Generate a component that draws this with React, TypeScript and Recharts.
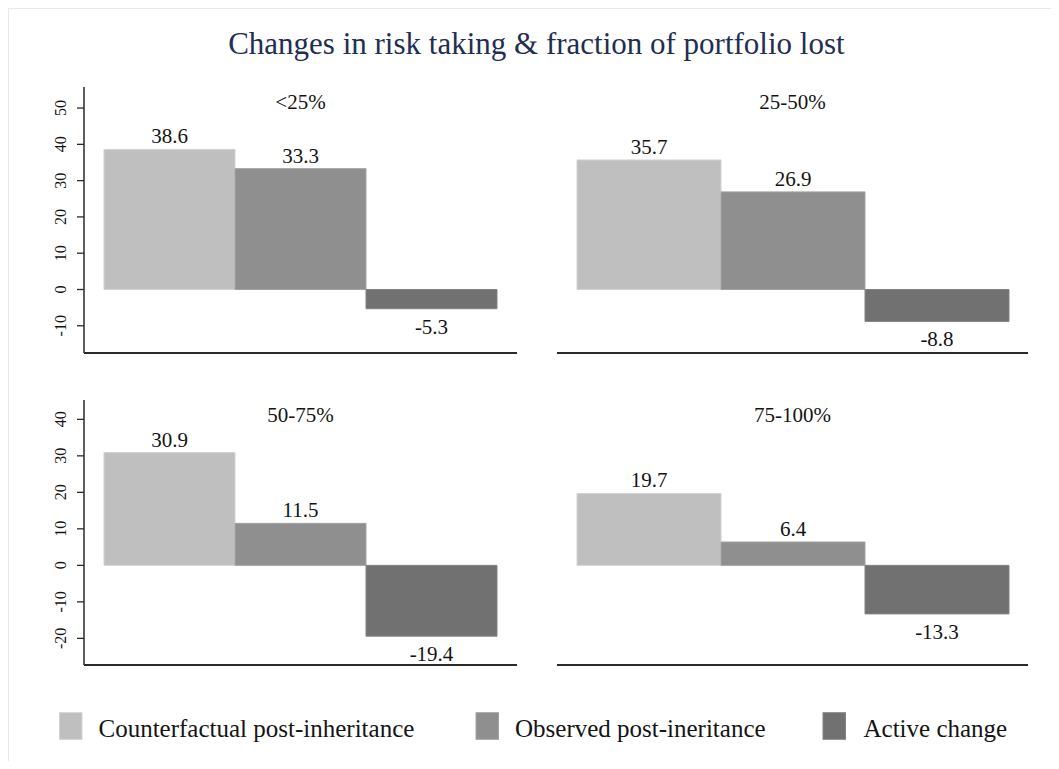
import React from 'react';
import { BarChart, Bar, XAxis, YAxis, LabelList } from 'recharts';

// ---------- data ----------
const panelNames = ['<25%', '25-50%', '50-75%', '75-100%'];
const counterfactual = [38.6, 35.7, 30.9, 19.7];
const observed = [33.3, 26.9, 11.5, 6.4];
const activeChange = [-5.3, -8.8, -19.4, -13.3];
const seriesNames = ['Counterfactual post-inheritance', 'Observed post-ineritance', 'Active change'];
const topRowTicks = [-10, 0, 10, 20, 30, 40, 50];
const bottomRowTicks = [-20, -10, 0, 10, 20, 30, 40];
const topRowDomain: [number, number] = [-17.5, 55.8];
const bottomRowDomain: [number, number] = [-27.3, 45.3];
const chartTitle = 'Changes in risk taking & fraction of portfolio lost';

// ---------- style ----------
const seriesKeys = ['cf', 'obs', 'act'];
const fills = ['#bfbfbf', '#8f8f8f', '#717171'];
const strokes = ['#d2d2d2', '#a2a2a2', '#838383'];
const FONT = '"Liberation Serif", "DejaVu Serif", serif';
const TEXT = '#141414';
const AXIS = '#2a2a2a';

const panelLayout = [
  { L: 76, T: 79, R: 509, B: 345, showY: true, ticks: topRowTicks, domain: topRowDomain },
  { L: 549, T: 79, R: 1020, B: 345, showY: false, ticks: topRowTicks, domain: topRowDomain },
  { L: 76, T: 392, R: 509, B: 657, showY: true, ticks: bottomRowTicks, domain: bottomRowDomain },
  { L: 549, T: 392, R: 1020, B: 657, showY: false, ticks: bottomRowTicks, domain: bottomRowDomain },
];

const legendLayout = [
  { sx: 51.5, tx: 90.5 },
  { sx: 468, tx: 507 },
  { sx: 815, tx: 855.5 },
];

const YTick = (props: any) => {
  const { x, y, payload } = props;
  const bx = x - 11;
  return (
    <text
      transform={`translate(${bx},${y}) rotate(-90)`}
      textAnchor="middle"
      fontFamily={FONT}
      fontSize={16}
      fill={TEXT}
    >
      {payload.value}
    </text>
  );
};

const ValueLabel = (props: any) => {
  const { x, y, width, height, value } = props;
  const top = Math.min(y, y + height);
  const bottom = Math.max(y, y + height);
  const cx = x + width / 2;
  const ty = value >= 0 ? top - 6 : bottom + 25;
  return (
    <text x={cx} y={ty} textAnchor="middle" fontFamily={FONT} fontSize={21} fill={TEXT}>
      {value}
    </text>
  );
};

function Panel({ index }: { index: number }) {
  const r = panelLayout[index];
  const data = [
    {
      panel: panelNames[index],
      cf: counterfactual[index],
      obs: observed[index],
      act: activeChange[index],
    },
  ];
  const yw = 40;
  const W = r.R + 10;
  const H = r.B + 30;
  return (
    <div style={{ position: 'absolute', left: 0, top: 0 }}>
      <BarChart
        width={W}
        height={H}
        data={data}
        margin={{ top: r.T, right: 10, bottom: 29, left: r.showY ? r.L - yw : r.L }}
        barCategoryGap={20}
        barGap={0}
      >
        <XAxis
          dataKey="panel"
          type="category"
          tick={false}
          tickLine={false}
          height={1}
          axisLine={{ stroke: AXIS, strokeWidth: 1.8 }}
        />
        <YAxis
          hide={!r.showY}
          width={yw}
          type="number"
          domain={r.domain}
          ticks={r.ticks}
          allowDataOverflow
          interval={0}
          tickSize={7}
          tickMargin={0}
          axisLine={{ stroke: AXIS, strokeWidth: 1.5 }}
          tickLine={{ stroke: AXIS, strokeWidth: 1.3 }}
          tick={YTick}
        />
        {seriesKeys.map((k, i) => (
          <Bar
            key={k}
            dataKey={k}
            name={seriesNames[i]}
            fill={fills[i]}
            stroke={strokes[i]}
            strokeWidth={1}
            isAnimationActive={false}
          >
            <LabelList dataKey={k} content={ValueLabel} />
          </Bar>
        ))}
      </BarChart>
    </div>
  );
}

export default function App() {
  return (
    <div
      style={{
        position: 'relative',
        width: 1043,
        height: 753,
        background: '#ffffff',
        fontFamily: FONT,
      }}
    >
      {panelNames.map((_, i) => (
        <Panel key={i} index={i} />
      ))}
      <svg
        width={1043}
        height={753}
        style={{ position: 'absolute', left: 0, top: 0, pointerEvents: 'none' }}
      >
        <line x1={0} y1={0.5} x2={1043} y2={0.5} stroke="#e3ebee" strokeWidth={1} />
        <line x1={0.5} y1={0} x2={0.5} y2={753} stroke="#e3ebee" strokeWidth={1} />
        <text x={528.4} y={46.3} textAnchor="middle" fontFamily={FONT} fontSize={31} fill="#1f2e52">
          {chartTitle}
        </text>
        {panelNames.map((p, i) => {
          const r = panelLayout[i];
          return (
            <text
              key={p}
              x={(r.L + r.R) / 2}
              y={r.T + 21.5}
              textAnchor="middle"
              fontFamily={FONT}
              fontSize={21}
              fill={TEXT}
            >
              {p}
            </text>
          );
        })}
        {seriesNames.map((s, i) => (
          <g key={s}>
            <rect
              x={legendLayout[i].sx}
              y={704.7}
              width={22.5}
              height={26.6}
              fill={fills[i]}
              stroke={strokes[i]}
              strokeWidth={1}
            />
            <text x={legendLayout[i].tx} y={728.7} fontFamily={FONT} fontSize={25} fill={TEXT}>
              {s}
            </text>
          </g>
        ))}
      </svg>
    </div>
  );
}
